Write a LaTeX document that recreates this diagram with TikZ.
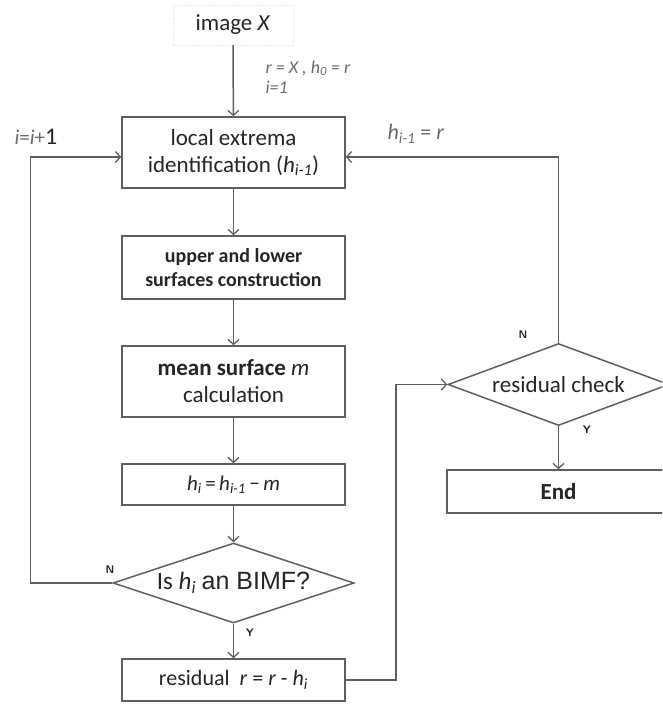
\documentclass[tikz,border=0pt]{standalone}
\usepackage{fontspec}
\setmainfont{Carlito}
\newfontfamily\arialfont{Liberation Sans}
\usetikzlibrary{shapes.geometric,arrows.meta}
\definecolor{ink}{HTML}{252525}
\definecolor{wire}{HTML}{5E5E5E}
\definecolor{note}{HTML}{6A6A6A}
\newcommand{\var}[1]{\textit{#1}}
\newcommand{\vsub}[2]{\textit{#1}\textsubscript{\textit{#2}}}
\begin{document}
\begin{tikzpicture}[x=1pt,y=-1pt,
  every node/.style={text=ink},
  procbox/.style={draw=wire, line width=1.5pt, rectangle, minimum width=223pt, inner sep=0pt, align=center, font=\fontsize{23}{27}\selectfont},
  decide/.style={draw=wire, line width=1.5pt, diamond, inner sep=0pt, align=center, font=\fontsize{23}{27}\selectfont},
  arr/.style={draw=wire, line width=1.5pt, -{Straight Barb[length=5pt,width=11pt,line width=1.3pt]}},
  flag/.style={font=\sffamily\bfseries\fontsize{11}{12}\selectfont, text=ink},
  cond/.style={font=\itshape\fontsize{18}{20}\selectfont, text=note, align=left, anchor=west},
]
\useasboundingbox (0,0) rectangle (662,715);
\clip (0,0) rectangle (662,715);

% input
\node[draw=gray!25, dotted, minimum width=120pt, minimum height=40pt, inner sep=0pt,
      font=\fontsize{23}{27}\selectfont] (img) at (233,25) {image \var{X}};

% sifting loop
\node[procbox, minimum height=71pt] (extrema) at (233.5,152.5)
  {local extrema\\identification (\vsub{h}{i-1})};
\node[procbox, minimum height=63pt, font=\bfseries\fontsize{20}{24}\selectfont] (env) at (233.5,267.5)
  {upper and lower\\surfaces construction};
\node[procbox, minimum height=71pt] (mean) at (233.5,381.5)
  {\textbf{mean surface} \var{m}\\calculation};
\node[procbox, minimum height=41pt, font=\fontsize{21}{25}\selectfont] (diff) at (233.5,484.5)
  {\vsub{h}{i}\,=\,\vsub{h}{i-1}\,\textminus\,\var{m}};
\node[decide, shape aspect=3.01, minimum width=241pt, minimum height=80pt, font=\fontsize{25}{29}\selectfont] (bimf) at (233.5,583)
  {Is \vsub{h}{i} {\arialfont an BIMF?}};
\node[procbox, minimum height=42pt, font=\fontsize{22}{26}\selectfont] (resid) at (233.5,680)
  {residual \ \var{r} = \var{r} - \vsub{h}{i}};

% stopping test
\node[decide, shape aspect=2.69, minimum width=221pt, minimum height=82pt] (check) at (558.5,384.5)
  {residual check};
\node[procbox, minimum width=223pt, minimum height=43pt, font=\bfseries\fontsize{23}{27}\selectfont] (stop) at (558.5,491.5)
  {End};

% main flow
\draw[arr] (img) -- (extrema);
\draw[arr] (extrema) -- (env);
\draw[arr] (env) -- (mean);
\draw[arr] (mean) -- (diff);
\draw[arr] (diff) -- (bimf);
\draw[arr] (bimf) -- (resid);
\draw[arr] (check) -- (stop);

% feedback paths
\draw[arr] (bimf.west) -- ++(-82,0) |- ([yshift=-4.5pt]extrema.west);
\draw[arr] (resid.east) -- ++(50,0) |- (check.west);
\draw[arr] (check.north) |- ([yshift=-4.5pt]extrema.east);

% annotations
\node[cond] (init) at (262,77)
  {\var{r} = \var{X} , \vsub{h}{0} = \var{r}\\\var{i}=1};
\node[anchor=west, font=\fontsize{21}{24}\selectfont, text=note] (incr) at (11,137)
  {\var{i}=\var{i}+{\color{ink}\fontsize{24}{24}\selectfont 1}};
\node[anchor=west, font=\fontsize{22}{24}\selectfont, text=note] (reset) at (384,134)
  {\vsub{h}{i-1} = \var{r}};
\node[flag] (n1) at (110,570) {N};
\node[flag] (y1) at (250,633) {Y};
\node[flag] (n2) at (523,335) {N};
\node[flag] (y2) at (587,430) {Y};
\end{tikzpicture}
\end{document}
